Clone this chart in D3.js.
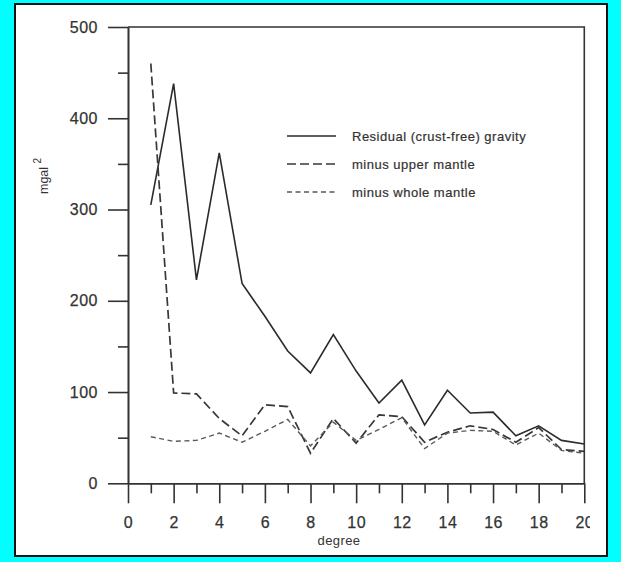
<!DOCTYPE html>
<html>
<head>
<meta charset="utf-8">
<script src="https://cdn.jsdelivr.net/npm/d3@7"></script>
<style>
  html, body { margin: 0; padding: 0; background: #00ffff; }
  svg { display: block; }
  text { font-family: "Liberation Sans", Arial, sans-serif; fill: #333; }
</style>
</head>
<body>
<script>
// spherical harmonic degree
const degrees = [1, 2, 3, 4, 5, 6, 7, 8, 9, 10, 11, 12, 13, 14, 15, 16, 17, 18, 19, 20];

// power, mgal^2
const residual    = [305, 438, 223, 362, 219, 183, 145, 121, 163, 123, 88, 113, 64, 102, 77, 78, 52, 63, 47, 43];
const upperMantle = [460, 99, 98, 71, 52, 86, 84, 33, 71, 44, 75, 73, 45, 56, 63, 59, 45, 61, 37, 35];
const wholeMantle = [51, 46, 47, 55, 45, 57, 70, 41, 67, 47, 59, 72, 38, 55, 58, 57, 42, 55, 36, 33];

const xMajor = [0, 2, 4, 6, 8, 10, 12, 14, 16, 18, 20];
const xMinor = [1, 3, 5, 7, 9, 11, 13, 15, 17, 19];
const yMajor = [0, 100, 200, 300, 400, 500];
const yMinor = [50, 150, 250, 350, 450];

const seriesNames = ["Residual (crust-free) gravity", "minus upper mantle", "minus whole mantle"];

const width = 621, height = 562;

const svg = d3.select("body").append("svg")
  .attr("width", width)
  .attr("height", height);

// white panel with dark frame
svg.append("rect")
  .attr("x", 15).attr("y", 4)
  .attr("width", 592).attr("height", 552)
  .attr("fill", "#fff")
  .attr("stroke", "#111")
  .attr("stroke-width", 2);

// the scanned original cuts the last tick label short
svg.append("clipPath").attr("id", "xlab-clip")
  .append("rect")
  .attr("x", 0).attr("y", 0)
  .attr("width", 590).attr("height", height);

const x = d3.scaleLinear().domain([0, 20]).range([128, 584.3]);
const y = d3.scaleLinear().domain([0, 500]).range([483.3, 27]);

const axisColor = "#333";

// x axis
const gx = svg.append("g")
  .attr("clip-path", "url(#xlab-clip)")
  .append("g")
  .attr("transform", "translate(0," + y(0) + ")");
gx.call(d3.axisBottom(x).tickValues(xMajor).tickSize(20).tickSizeOuter(0).tickPadding(13));
const gxm = svg.append("g").attr("transform", "translate(0," + y(0) + ")");
gxm.call(d3.axisBottom(x).tickValues(xMinor).tickSize(10).tickSizeOuter(0).tickFormat(""));

// y axis
const gy = svg.append("g").attr("transform", "translate(" + x(0) + ",0)");
gy.call(d3.axisLeft(y).tickValues(yMajor).tickSize(20).tickSizeOuter(0).tickPadding(10));
const gym = svg.append("g").attr("transform", "translate(" + x(0) + ",0)");
gym.call(d3.axisLeft(y).tickValues(yMinor).tickSize(10).tickSizeOuter(0).tickFormat(""));

[gx, gxm, gy, gym].forEach(function(g) {
  g.selectAll("path, line").attr("stroke", axisColor).attr("stroke-width", 1.6);
  g.selectAll("text")
    .attr("fill", "#333")
    .attr("stroke", "#333")
    .attr("stroke-width", 0.25)
    .style("font-size", "16px")
    .style("letter-spacing", "0.5px")
    .style("font-family", "'Liberation Sans', Arial, sans-serif");
});

// top and right frame of the plot box
svg.append("path")
  .attr("d", "M" + x(0) + "," + y(500) + "H" + x(20) + "V" + y(0))
  .attr("fill", "none")
  .attr("stroke", axisColor)
  .attr("stroke-width", 1.6);

// axis titles
svg.append("text")
  .attr("x", x(0) + 211)
  .attr("y", 545)
  .attr("text-anchor", "middle")
  .style("font-size", "13px")
  .style("letter-spacing", "0.4px")
  .text("degree");

const yLabel = svg.append("text")
  .attr("transform", "translate(48,194) rotate(-90)")
  .style("font-size", "12.5px");
yLabel.append("tspan").text("mgal ");
yLabel.append("tspan").attr("dy", -7).style("font-size", "10px").text("2");

// series
const styles = [
  { data: residual,    dash: null,    color: "#2b2b2b", w: 1.6 },
  { data: upperMantle, dash: "9,4",   color: "#383838", w: 1.7 },
  { data: wholeMantle, dash: "5,3.5", color: "#5a5a5a", w: 1.4 }
];

const line = d3.line()
  .x(function(d) { return x(d[0]); })
  .y(function(d) { return y(d[1]); });

styles.forEach(function(s) {
  svg.append("path")
    .datum(d3.zip(degrees, s.data))
    .attr("fill", "none")
    .attr("stroke", s.color)
    .attr("stroke-width", s.w)
    .attr("stroke-dasharray", s.dash)
    .attr("stroke-linejoin", "miter")
    .attr("d", line);
});

// legend
const legend = svg.append("g").attr("transform", "translate(287,136)");
styles.forEach(function(s, i) {
  const row = legend.append("g").attr("transform", "translate(0," + (i * 28) + ")");
  row.append("line")
    .attr("x1", 0).attr("x2", 49)
    .attr("stroke", s.color)
    .attr("stroke-width", s.w)
    .attr("stroke-dasharray", s.dash);
  row.append("text")
    .attr("x", 65)
    .attr("dy", "0.35em")
    .attr("stroke", "#333")
    .attr("stroke-width", 0.2)
    .style("font-size", "13px")
    .style("letter-spacing", "0.5px")
    .text(seriesNames[i]);
});
</script>
</body>
</html>
